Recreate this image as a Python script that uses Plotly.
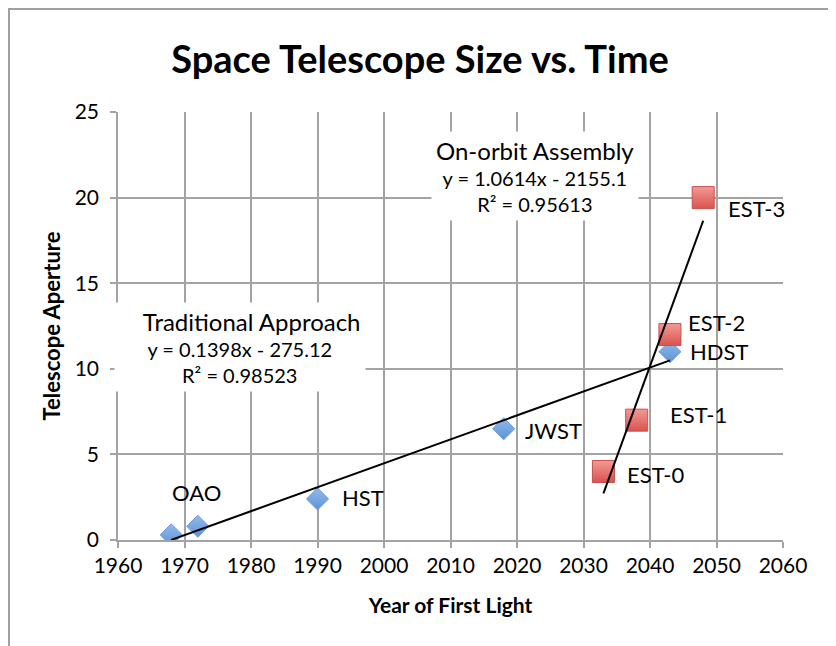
import plotly.graph_objects as go

# ---- data ----
trad_year = [1968, 1972, 1990, 2018, 2043]
trad_aperture = [0.3, 0.8, 2.4, 6.5, 11.0]
trad_labels = ["OAO", "", "HST", "JWST", "HDST"]

est_year = [2033, 2038, 2043, 2048]
est_aperture = [4, 7, 12, 20]
est_labels = ["EST-0", "EST-1", "EST-2", "EST-3"]

# trendline equations as printed on the chart: slope, intercept, R²
trad_slope, trad_intercept, trad_r2 = 0.1398, -275.12, 0.98523
est_slope, est_intercept, est_r2 = 1.0614, -2155.1, 0.95613

x_ticks = [1960, 1970, 1980, 1990, 2000, 2010, 2020, 2030, 2040, 2050, 2060]
y_ticks = [0, 5, 10, 15, 20, 25]

# ---- styles ----
FONT = "Lato"
GRID = "#a3a3a3"
PAGE_OFFSET = 8  # browser body margin
label_offsets = {  # (xshift, yshift, xanchor)
    "OAO": (25, 42, "center"),
    "HST": (22, 1, "left"),
    "JWST": (19, -2, "left"),
    "HDST": (18, 0, "left"),
    "EST-0": (22, -3, "left"),
    "EST-1": (31, 6, "left"),
    "EST-2": (16, 12, "left"),
    "EST-3": (23, -11, "left"),
}

fig = go.Figure()

fig.add_trace(go.Scatter(
    x=trad_year, y=trad_aperture, mode="markers",
    marker=dict(symbol="diamond", size=17, color="#92bbea",
                gradient=dict(type="vertical", color="#5e91d5"),
                line=dict(color="#6d9cd9", width=1)),
    hoverinfo="x+y", showlegend=False))

fig.add_trace(go.Scatter(
    x=est_year, y=est_aperture, mode="markers",
    marker=dict(symbol="square", size=22, color="#f29a95",
                gradient=dict(type="vertical", color="#d9534f"),
                line=dict(color="#c9504c", width=1)),
    hoverinfo="x+y", showlegend=False))

# trendlines across each series' year span
for xs, m, b in [(trad_year, trad_slope, trad_intercept),
                 (est_year, est_slope, est_intercept)]:
    x_end = [min(xs), max(xs)]
    fig.add_trace(go.Scatter(
        x=x_end, y=[m * v + b for v in x_end], mode="lines",
        line=dict(color="black", width=2), hoverinfo="skip",
        showlegend=False))

annotations = []
for xs, ys, labs in [(trad_year, trad_aperture, trad_labels),
                     (est_year, est_aperture, est_labels)]:
    for xv, yv, lab in zip(xs, ys, labs):
        if not lab:
            continue
        dx, dy, anc = label_offsets[lab]
        annotations.append(dict(
            x=xv, y=yv, text=lab, showarrow=False, xanchor=anc,
            yanchor="middle", xshift=dx, yshift=dy,
            font=dict(family=FONT, size=22, color="black")))


def fit_text(title, m, b, r2):
    sign = "-" if b < 0 else "+"
    return (f"<span style='font-size:24px'>{title}</span><br>"
            f"y = {m:.4f}x {sign} {abs(b):g}<br>"
            f"R² = {r2:.5f}")


annotations.append(dict(
    x=1978.3, y=11.25, xref="x", yref="y", showarrow=False,
    text=fit_text("    Traditional Approach", trad_slope, trad_intercept, trad_r2),
    font=dict(family=FONT, size=20, color="black"),
    bgcolor="white", borderpad=4, align="center"))
annotations.append(dict(
    x=2022.7, y=21.25, xref="x", yref="y", showarrow=False,
    text=fit_text("On-orbit Assembly", est_slope, est_intercept, est_r2),
    font=dict(family=FONT, size=20, color="black"),
    bgcolor="white", borderpad=4, align="center"))

axis_common = dict(
    showgrid=True, gridcolor=GRID, gridwidth=1.5,
    showline=True, linecolor=GRID, linewidth=1.5,
    ticks="outside", ticklen=6, tickcolor=GRID, tickwidth=1.5,
    zeroline=False, automargin=False,
    tickfont=dict(family=FONT, size=21, color="black"),
)

ML, MT, PW, PH = 118 - PAGE_OFFSET, 112 - PAGE_OFFSET, 665, 428

fig.update_layout(
    width=836, height=646, autosize=False,
    margin=dict(l=ML, r=836 - ML - PW, t=MT, b=646 - MT - PH),
    paper_bgcolor="white", plot_bgcolor="white",
    title=dict(text="<b>Space Telescope Size vs. Time</b>",
               font=dict(family=FONT, size=38, color="black"),
               x=(420 - PAGE_OFFSET) / 836, xref="container", xanchor="center",
               y=1 - (60 - PAGE_OFFSET) / 646, yref="container",
               yanchor="middle"),
    xaxis=dict(range=[1960, 2060], tickvals=x_ticks,
               ticktext=[str(v) for v in x_ticks],
               title=dict(text="<b>Year of First Light</b>",
                          font=dict(family=FONT, size=21, color="black"),
                          standoff=22),
               **axis_common),
    yaxis=dict(range=[0, 25], tickvals=y_ticks,
               ticktext=[str(v) for v in y_ticks], ticklabelstandoff=7,
               title=dict(text="<b>Telescope Aperture</b>",
                          font=dict(family=FONT, size=22, color="black"),
                          standoff=8),
               **axis_common),
    annotations=annotations,
    shapes=[dict(type="rect", xref="paper", yref="paper",
                 x0=(1 - ML) / PW, x1=(824 - ML) / PW,
                 y0=-0.35, y1=(MT + PH - 1) / PH,
                 line=dict(color="#a0a0a0", width=2), layer="below")],
)

fig.write_html("out.html")
